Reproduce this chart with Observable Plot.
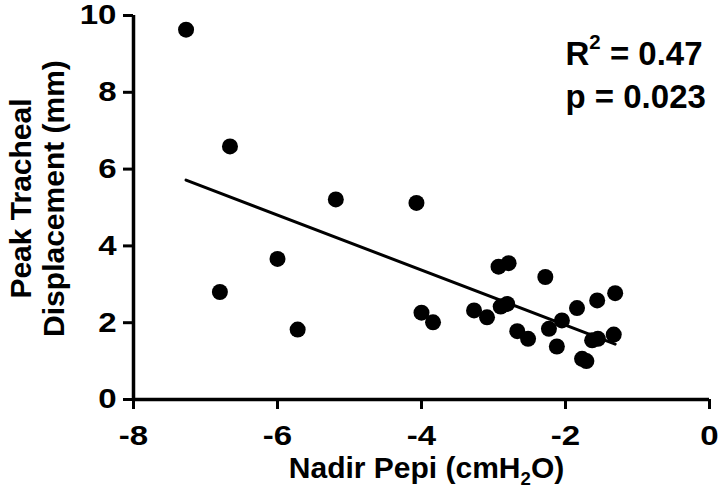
<!DOCTYPE html>
<html>
<head>
<meta charset="utf-8">
<script src="https://cdn.jsdelivr.net/npm/d3@7"></script>
<script src="https://cdn.jsdelivr.net/npm/@observablehq/plot@0.6"></script>
<style>
  html, body { margin: 0; padding: 0; background: #fff; }
</style>
</head>
<body>
<div id="chart"></div>
<script>
// Nadir Pepi (cmH2O)
const pepi = [-7.27, -6.66, -5.19, -4.07, -6.00, -6.80, -5.72, -4.00, -3.84, -3.27,
              -3.09, -2.93, -2.79, -2.90, -2.81, -2.67, -2.52, -2.28, -2.23, -2.05,
              -2.12, -1.84, -1.56, -1.31, -1.63, -1.55, -1.33, -1.77, -1.71];
// Peak tracheal displacement (mm)
const displacement = [9.63, 6.59, 5.21, 5.12, 3.66, 2.80, 1.82, 2.26, 2.01, 2.32,
                      2.14, 3.46, 3.55, 2.42, 2.49, 1.78, 1.58, 3.19, 1.84, 2.06,
                      1.38, 2.38, 2.58, 2.77, 1.54, 1.58, 1.69, 1.06, 1.00];
const xTicks = [-8, -6, -4, -2, 0];
const yTicks = [0, 2, 4, 6, 8, 10];
const statsLines = ["R² = 0.47", "p = 0.023"];
const xLabel = "Nadir Pepi (cmH₂O)";
const yLabelLines = ["Peak Tracheal", "Displacement (mm)"];

const data = pepi.map((x, i) => ({x, y: displacement[i]}));
const font = "'Liberation Sans', Arial, Helvetica, sans-serif";

const chart = Plot.plot({
  width: 720,
  height: 503,
  marginLeft: 133,
  marginRight: 11,
  marginTop: 15,
  marginBottom: 104,
  x: {domain: [xTicks[0], xTicks[xTicks.length - 1]]},
  y: {domain: [yTicks[0], yTicks[yTicks.length - 1]]},
  style: {fontFamily: font, fontWeight: "bold", color: "#000", background: "#fff"},
  marks: [
    Plot.axisX({ticks: xTicks, anchor: "bottom", tickSize: 10, tickPadding: 16, fontSize: 28, fontWeight: "bold",
      strokeWidth: 3, tickFormat: d => String(d), label: null}),
    Plot.axisY({ticks: yTicks, anchor: "left", tickSize: 10, tickPadding: 7, fontSize: 28, fontWeight: "bold",
      strokeWidth: 3, tickFormat: d => String(d), label: null}),
    Plot.ruleY([yTicks[0]], {stroke: "#000", strokeWidth: 3.5}),
    Plot.ruleX([xTicks[0]], {stroke: "#000", strokeWidth: 3.5}),
    Plot.linearRegressionY(data, {x: "x", y: "y", ci: 0, stroke: "#000", strokeWidth: 3}),
    Plot.dot(data, {x: "x", y: "y", r: 8, fill: "#000", stroke: null}),
    Plot.text([xLabel], {frameAnchor: "bottom", lineAnchor: "bottom", textAnchor: "middle", dx: 5, dy: 78,
      fontSize: 30, fontWeight: "bold", fill: "#000"}),
    Plot.text([yLabelLines[0]], {frameAnchor: "left", lineAnchor: "bottom", textAnchor: "middle", rotate: -90,
      dx: -103, dy: -9, fontSize: 30, fontWeight: "bold", fill: "#000"}),
    Plot.text([yLabelLines[1]], {frameAnchor: "left", lineAnchor: "bottom", textAnchor: "middle", rotate: -90,
      dx: -70, dy: -9, fontSize: 30, fontWeight: "bold", fill: "#000"}),
    Plot.text([statsLines[0]], {frameAnchor: "top-left", lineAnchor: "bottom", textAnchor: "start",
      dx: 432, dy: 49, fontSize: 33, fontWeight: "bold", fill: "#000"}),
    Plot.text([statsLines[1]], {frameAnchor: "top-left", lineAnchor: "bottom", textAnchor: "start",
      dx: 432, dy: 92, fontSize: 33, fontWeight: "bold", fill: "#000"})
  ]
});

const root = d3.select(chart);
// The reference tick numerals are slightly wider than Arial: stretch them horizontally about their anchor
root.selectAll('[aria-label$="tick label"] text').each(function () {
  const t = this.getAttribute("transform") || "";
  this.setAttribute("transform", t + " scale(1.18,1)");
});

// Render ² as a raised superscript and ₂ as a lowered subscript (text stays text)
root.selectAll("text").each(function () {
  const el = d3.select(this);
  if (el.selectAll("tspan").size() > 0) return;
  const s = el.text();
  const m = s.match(/[²₂]/);
  if (!m) return;
  const i = m.index;
  const isSup = m[0] === "²";
  el.text(null);
  el.append("tspan").text(s.slice(0, i));
  el.append("tspan").attr("font-size", "62%").attr("dy", isSup ? "-0.75em" : "0.38em").text("2");
  el.append("tspan").attr("dy", isSup ? "0.465em" : "-0.2356em").text(s.slice(i + 1));
});

document.getElementById("chart").appendChild(chart);
</script>
</body>
</html>
